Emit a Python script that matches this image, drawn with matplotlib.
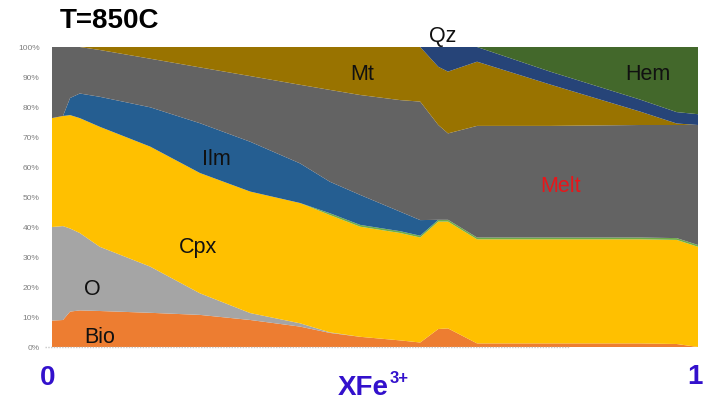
import numpy as np
import matplotlib
matplotlib.use("Agg")
import matplotlib.pyplot as plt

# x position along XFe3+ (0..1) and layer amounts in percent (stacked bottom -> top)
xfe = [0.0, 0.017, 0.028, 0.043, 0.074, 0.152, 0.229, 0.307, 0.384, 0.430,
       0.477, 0.539, 0.570, 0.598, 0.613, 0.658, 0.771, 0.910, 0.967, 1.0]
bio = [8.8, 9.0, 11.8, 12.2, 12.0, 11.4, 10.7, 9.0, 6.8, 4.7,
       3.4, 2.2, 1.5, 6.0, 6.2, 1.2, 1.2, 1.2, 1.0, 0.0]
o_ = [31.2, 31.3, 27.7, 25.8, 21.4, 15.4, 7.2, 2.3, 1.1, 0.2,
      0, 0, 0, 0, 0, 0, 0, 0, 0, 0]
cpx = [36.3, 36.7, 37.8, 38.3, 40.0, 40.0, 40.1, 40.5, 40.1, 39.1,
       36.7, 35.8, 35.0, 35.8, 35.6, 34.7, 34.7, 34.7, 34.7, 33.4]
minor = [0, 0, 0, 0, 0, 0, 0, 0, 0, 0.6,
         0.6, 0.6, 0.6, 0.6, 0.6, 0.6, 0.6, 0.6, 0.6, 0.6]
ilm = [0, 0, 5.7, 8.2, 10.0, 13.1, 16.6, 16.6, 13.2, 10.5,
       10.0, 6.5, 5.2, 0, 0, 0, 0, 0, 0, 0]
melt = [23.7, 23.0, 17.0, 15.5, 15.6, 16.2, 18.6, 21.9, 26.2, 30.6,
        33.3, 37.2, 39.5, 31.6, 28.8, 37.2, 37.2, 37.5, 37.7, 40.0]
mt = [0, 0, 0, 0, 1.0, 3.9, 6.8, 9.7, 12.6, 14.3,
      16.0, 17.7, 18.2, 19.4, 20.6, 21.4, 13.8, 4.5, 0.5, 0]
qz = [0, 0, 0, 0, 0, 0, 0, 0, 0, 0,
      0, 0, 0, 6.6, 8.2, 4.9, 4.3, 4.0, 3.8, 3.6]
hem = [0, 0, 0, 0, 0, 0, 0, 0, 0, 0,
       0, 0, 0, 0, 0, 0, 8.2, 17.5, 21.7, 22.4]

layers = [bio, o_, cpx, minor, ilm, melt, mt, qz, hem]
colors = ["#ED7D31", "#A5A5A5", "#FFC000", "#70AD47", "#255E91",
          "#636363", "#997300", "#264478", "#43682B"]

# 100% stacked like the spreadsheet chart
vals = np.array(layers, dtype=float)
vals = vals / vals.sum(axis=0) * 100

plt.rcParams['font.family'] = ['Liberation Sans', 'DejaVu Sans']

fig = plt.figure(figsize=(7.08, 4.07), dpi=100)
ax = fig.add_axes([52 / 708, 60 / 407, 646 / 708, 300 / 407])
ax.stackplot(xfe, vals, colors=colors, linewidth=0)
ax.set_xlim(0, 1)
ax.set_ylim(0, 100)
ax.set_yticks(range(0, 101, 10))
ax.set_yticklabels([f"{v}%" for v in range(0, 101, 10)])
ax.tick_params(axis='y', length=0, labelsize=6, labelcolor='#7f7f7f', pad=9)
ax.set_xticks([])
for s in ax.spines.values():
    s.set_visible(False)

# dotted category axis line
ax.plot([-0.011, 0.80], [0, 0], transform=ax.get_xaxis_transform(),
        color='#c8c8c8', ls=(0, (1, 1)), lw=1, clip_on=False)

# phase labels
lab = dict(fontsize=15.5, color='#111111', ha='center', va='baseline')
ax.text(0.074, 1.3, "Bio", **lab)
ax.text(0.062, 17.3, "O", **lab)
ax.text(0.226, 31.2, "Cpx", **lab)
ax.text(0.254, 60.7, "Ilm", **lab)
ax.text(0.788, 51.7, "Melt", fontsize=15.5, color='#E8161A', ha='center', va='baseline')
ax.text(0.48, 89.0, "Mt", **lab)
ax.text(0.922, 89.0, "Hem", **lab)
ax.text(0.605, 101.8, "Qz", clip_on=False, **lab)

# titles and axis annotations
blue = '#3311CC'
fig.text(60 / 708, 1 - 28 / 407, "T=850C", fontsize=20, fontweight='bold',
         color='black', ha='left', va='baseline')
fig.text(48 / 708, 1 - 385 / 407, "0", fontsize=20, fontweight='bold',
         color=blue, ha='center', va='baseline')
fig.text(695 / 708, 1 - 384 / 407, "1", fontsize=20, fontweight='bold',
         color=blue, ha='center', va='baseline')
fig.text(338 / 708, 1 - 395 / 407, "XFe", fontsize=20, fontweight='bold',
         color=blue, ha='left', va='baseline')
fig.text(390 / 708, 1 - 383 / 407, "3+", fontsize=12, fontweight='bold',
         color=blue, ha='left', va='baseline')

fig.savefig("out.png", dpi=100)
